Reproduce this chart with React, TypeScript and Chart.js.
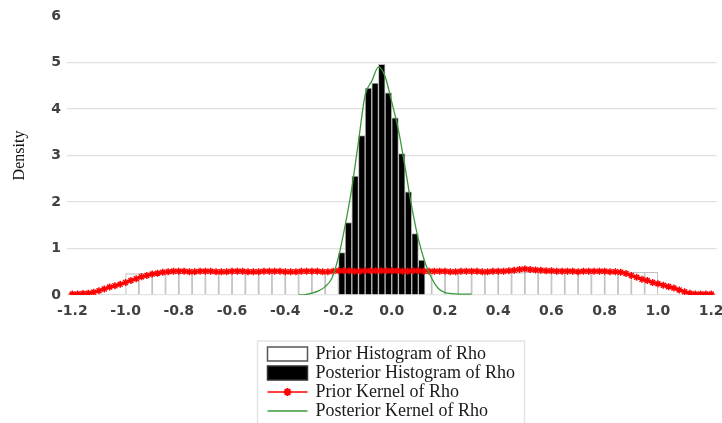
import React, { useEffect, useRef } from "react";
import { Chart, registerables } from "chart.js";

Chart.register(...registerables);

// ---------- data ----------
const X_TICKS = [-1.2, -1.0, -0.8, -0.6, -0.4, -0.2, 0.0, 0.2, 0.4, 0.6, 0.8, 1.0, 1.2];
const X_TICK_LABELS = ["-1.2", "-1.0", "-0.8", "-0.6", "-0.4", "-0.2", "0.0", "0.2", "0.4", "0.6", "0.8", "1.0", "1.2"];
const Y_TICKS = [0, 1, 2, 3, 4, 5, 6];

const SERIES_NAMES = [
  "Prior Histogram of Rho",
  "Posterior Histogram of Rho",
  "Prior Kernel of Rho",
  "Posterior Kernel of Rho",
];

// prior histogram: bin width, bin centres and densities
const PRIOR_BIN_WIDTH = 0.05;
const PRIOR_HIST_X = [
  -0.975, -0.925, -0.875, -0.825, -0.775, -0.725, -0.675, -0.625, -0.575, -0.525,
  -0.475, -0.425, -0.375, -0.325, -0.275, -0.225, -0.175, -0.125, -0.075, -0.025,
  0.025, 0.075, 0.125, 0.175, 0.225, 0.275, 0.325, 0.375, 0.425, 0.475,
  0.525, 0.575, 0.625, 0.675, 0.725, 0.775, 0.825, 0.875, 0.925, 0.975,
];
const PRIOR_HIST_Y = [
  0.46, 0.47, 0.46, 0.48, 0.47, 0.48, 0.49, 0.48, 0.47, 0.48,
  0.49, 0.48, 0.48, 0.47, 0.48, 0.49, 0.48, 0.47, 0.48, 0.48,
  0.48, 0.47, 0.48, 0.49, 0.48, 0.48, 0.47, 0.48, 0.49, 0.48,
  0.49, 0.48, 0.48, 0.49, 0.5, 0.49, 0.49, 0.5, 0.49, 0.49,
];

// posterior histogram: bin width, bin centres and densities
const POST_BIN_WIDTH = 0.025;
const POST_HIST_X = [
  -0.1875, -0.1625, -0.1375, -0.1125, -0.0875, -0.0625, -0.0375,
  -0.0125, 0.0125, 0.0375, 0.0625, 0.0875, 0.1125,
];
const POST_HIST_Y = [0.91, 1.56, 2.56, 3.43, 4.45, 4.56, 4.96, 4.35, 3.81, 3.04, 2.22, 1.32, 0.75];

// prior kernel density
const PRIOR_KERNEL_X = [
  -1.2, -1.18, -1.16, -1.14, -1.12, -1.1, -1.08, -1.06, -1.04, -1.02,
  -1.0, -0.98, -0.96, -0.94, -0.92, -0.9, -0.88, -0.86, -0.84, -0.82,
  -0.8, -0.78, -0.76, -0.74, -0.72, -0.7, -0.68, -0.66, -0.64, -0.62,
  -0.6, -0.58, -0.56, -0.54, -0.52, -0.5, -0.48, -0.46, -0.44, -0.42,
  -0.4, -0.38, -0.36, -0.34, -0.32, -0.3, -0.28, -0.26, -0.24, -0.22,
  -0.2, -0.18, -0.16, -0.14, -0.12, -0.1, -0.08, -0.06, -0.04, -0.02,
  0.0, 0.02, 0.04, 0.06, 0.08, 0.1, 0.12, 0.14, 0.16, 0.18,
  0.2, 0.22, 0.24, 0.26, 0.28, 0.3, 0.32, 0.34, 0.36, 0.38,
  0.4, 0.42, 0.44, 0.46, 0.48, 0.5, 0.52, 0.54, 0.56, 0.58,
  0.6, 0.62, 0.64, 0.66, 0.68, 0.7, 0.72, 0.74, 0.76, 0.78,
  0.8, 0.82, 0.84, 0.86, 0.88, 0.9, 0.92, 0.94, 0.96, 0.98,
  1.0, 1.02, 1.04, 1.06, 1.08, 1.1, 1.12, 1.14, 1.16, 1.18,
  1.2,
];
const PRIOR_KERNEL_Y = [
  0.02, 0.02, 0.03, 0.04, 0.06, 0.09, 0.13, 0.17, 0.2, 0.23,
  0.27, 0.31, 0.35, 0.39, 0.42, 0.45, 0.47, 0.49, 0.5, 0.51,
  0.51, 0.51, 0.5, 0.5, 0.51, 0.51, 0.51, 0.5, 0.5, 0.5,
  0.51, 0.51, 0.51, 0.5, 0.5, 0.5, 0.51, 0.51, 0.51, 0.51,
  0.5, 0.5, 0.5, 0.51, 0.51, 0.51, 0.51, 0.5, 0.5, 0.51,
  0.52, 0.52, 0.52, 0.51, 0.51, 0.52, 0.52, 0.52, 0.52, 0.52,
  0.52, 0.52, 0.51, 0.51, 0.52, 0.52, 0.51, 0.51, 0.51, 0.51,
  0.51, 0.5, 0.5, 0.51, 0.51, 0.51, 0.51, 0.5, 0.5, 0.51,
  0.51, 0.51, 0.52, 0.53, 0.55, 0.56, 0.55, 0.54, 0.53, 0.52,
  0.52, 0.51, 0.51, 0.51, 0.51, 0.5, 0.51, 0.51, 0.51, 0.51,
  0.51, 0.5, 0.5, 0.49, 0.46, 0.42, 0.38, 0.34, 0.31, 0.27,
  0.24, 0.21, 0.18, 0.15, 0.11, 0.07, 0.04, 0.02, 0.02, 0.02,
  0.02,
];

// posterior kernel density
const POST_KERNEL_X = [
  -0.35, -0.325, -0.3, -0.275, -0.25, -0.225, -0.2, -0.175, -0.15, -0.125,
  -0.1, -0.075, -0.05, -0.025, 0.0, 0.025, 0.05, 0.075, 0.1, 0.125,
  0.15, 0.175, 0.2, 0.225, 0.25, 0.275, 0.3,
];
const POST_KERNEL_Y = [
  0.0, 0.01, 0.04, 0.09, 0.18, 0.36, 0.82, 1.5, 2.3, 3.3,
  4.3, 4.6, 4.9, 4.7, 4.15, 3.55, 2.75, 1.9, 1.2, 0.7,
  0.36, 0.14, 0.05, 0.03, 0.02, 0.02, 0.02,
];

// ---------- styles ----------
const X_MIN = -1.22;
const X_MAX = 1.22;
const TICK_FONT = { family: "DejaVu Sans", size: 14, weight: "bold" as const };
const TICK_COLOR = "#404040";
const RED = "#ff0000";
const GREEN = "#3a9a3a";

const zip = (xs: number[], ys: number[]) => xs.map((x, i) => ({ x, y: ys[i] }));

// histogram bars are exactly one bin wide, measured through the x scale
const binWidthPlugin = {
  id: "binWidth",
  afterLayout(chart: any) {
    const xs = chart.scales.x;
    const px = (w: number) => Math.abs(xs.getPixelForValue(w) - xs.getPixelForValue(0));
    chart.data.datasets[0].barThickness = px(PRIOR_BIN_WIDTH);
    chart.data.datasets[1].barThickness = px(POST_BIN_WIDTH);
  },
};

const boxLegend = {
  id: "boxLegend",
  afterDraw(chart: any) {
    const { ctx, chartArea } = chart;
    const boxW = 267;
    const boxH = 90;
    const left = Math.round((chartArea.left + chartArea.right) / 2 - boxW / 2) - 0.5;
    const top = chartArea.bottom + 46;
    ctx.save();
    ctx.strokeStyle = "#e4e4e4";
    ctx.lineWidth = 1.5;
    ctx.strokeRect(left, top, boxW, boxH);

    const symX = left + 10;
    const symW = 40;
    const textX = left + 58;
    const rowY = [top + 13, top + 32, top + 51, top + 70];
    ctx.font = "18px 'Liberation Serif'";
    ctx.textBaseline = "middle";

    // prior hist symbol
    ctx.fillStyle = "#ffffff";
    ctx.fillRect(symX, rowY[0] - 7, symW, 14);
    ctx.strokeStyle = "#555555";
    ctx.lineWidth = 1.5;
    ctx.strokeRect(symX, rowY[0] - 7, symW, 14);
    // posterior hist symbol
    ctx.fillStyle = "#000000";
    ctx.fillRect(symX, rowY[1] - 7, symW, 14);
    ctx.strokeStyle = "#333333";
    ctx.strokeRect(symX, rowY[1] - 7, symW, 14);
    // prior kernel symbol
    ctx.strokeStyle = RED;
    ctx.lineWidth = 1.5;
    ctx.beginPath();
    ctx.moveTo(symX, rowY[2]);
    ctx.lineTo(symX + symW, rowY[2]);
    ctx.stroke();
    const cx = symX + symW / 2;
    const r = 4;
    ctx.beginPath();
    for (let k = 0; k < 4; k++) {
      const a = (k * Math.PI) / 4;
      ctx.moveTo(cx + r * Math.cos(a), rowY[2] + r * Math.sin(a));
      ctx.lineTo(cx - r * Math.cos(a), rowY[2] - r * Math.sin(a));
    }
    ctx.lineWidth = 2;
    ctx.stroke();
    // posterior kernel symbol
    ctx.strokeStyle = GREEN;
    ctx.lineWidth = 1.5;
    ctx.beginPath();
    ctx.moveTo(symX, rowY[3]);
    ctx.lineTo(symX + symW, rowY[3]);
    ctx.stroke();

    ctx.fillStyle = "#1a1a1a";
    SERIES_NAMES.forEach((name, i) => {
      ctx.fillText(name, textX, rowY[i]);
    });
    ctx.restore();
  },
};

export default function App() {
  const canvasRef = useRef<HTMLCanvasElement | null>(null);

  useEffect(() => {
    if (!canvasRef.current) return;
    const chart = new Chart(canvasRef.current, {
      type: "line",
      data: {
        datasets: [
          {
            type: "bar",
            label: SERIES_NAMES[0],
            data: zip(PRIOR_HIST_X, PRIOR_HIST_Y),
            backgroundColor: "#ffffff",
            borderColor: "#c2c2c2",
            borderWidth: 1.2,
            grouped: false,
            barPercentage: 1,
            categoryPercentage: 1,
            order: 4,
          },
          {
            type: "bar",
            label: SERIES_NAMES[1],
            data: zip(POST_HIST_X, POST_HIST_Y),
            backgroundColor: "#000000",
            borderColor: "#b8b8b8",
            borderWidth: 1,
            grouped: false,
            barPercentage: 1,
            categoryPercentage: 1,
            order: 3,
          },
          {
            type: "line",
            label: SERIES_NAMES[2],
            data: zip(PRIOR_KERNEL_X, PRIOR_KERNEL_Y),
            borderColor: RED,
            borderWidth: 2,
            pointStyle: "star",
            pointRadius: 3.5,
            pointBorderWidth: 1.5,
            pointBorderColor: RED,
            pointBackgroundColor: RED,
            tension: 0.3,
            order: 2,
          },
          {
            type: "line",
            label: SERIES_NAMES[3],
            data: zip(POST_KERNEL_X, POST_KERNEL_Y),
            borderColor: GREEN,
            borderWidth: 1.3,
            pointRadius: 0,
            cubicInterpolationMode: "monotone",
            order: 1,
          },
        ],
      },
      options: {
        animation: false,
        responsive: false,
        devicePixelRatio: 1,
        layout: { padding: { top: 16, right: 5, bottom: 106, left: 0 } },
        plugins: { legend: { display: false }, tooltip: { enabled: false } },
        scales: {
          x: {
            type: "linear",
            position: "bottom",
            min: X_MIN,
            max: X_MAX,
            offset: false,
            grid: { display: false, drawTicks: false, offset: false },
            border: { display: false },
            afterBuildTicks: (scale: any) => {
              scale.ticks = X_TICKS.map((v) => ({ value: v }));
            },
            afterFit: (scale: any) => {
              scale.paddingLeft = 0;
              scale.paddingRight = 0;
              scale.height = 22;
            },
            ticks: {
              autoSkip: false,
              maxRotation: 0,
              padding: 8,
              color: TICK_COLOR,
              font: TICK_FONT,
              callback: (value: any) => {
                const i = X_TICKS.findIndex((t) => Math.abs(t - Number(value)) < 1e-9);
                return i >= 0 ? X_TICK_LABELS[i] : "";
              },
            },
          },
          y: {
            type: "linear",
            min: 0,
            max: 6,
            afterBuildTicks: (scale: any) => {
              scale.ticks = Y_TICKS.map((v) => ({ value: v }));
            },
            afterFit: (scale: any) => {
              scale.width = 67;
              scale.paddingTop = 0;
              scale.paddingBottom = 0;
            },
            grid: {
              drawTicks: false,
              lineWidth: 1.3,
              color: (c: any) => (c.tick && c.tick.value === 6 ? "rgba(0,0,0,0)" : "#e0e0e0"),
            },
            border: { display: false },
            ticks: {
              padding: 6,
              color: TICK_COLOR,
              font: TICK_FONT,
              callback: (value: any) => String(value),
            },
            title: {
              display: true,
              text: "Density",
              color: "#111111",
              font: { family: "Liberation Serif", size: 16 },
              padding: { top: 10, bottom: 0 },
            },
          },
        },
      },
      plugins: [binWidthPlugin, boxLegend],
    });
    return () => chart.destroy();
  }, []);

  return (
    <canvas
      ref={canvasRef}
      width={722}
      height={423}
      style={{ position: "absolute", left: 0, top: 0, width: 722, height: 423, display: "block" }}
    />
  );
}
